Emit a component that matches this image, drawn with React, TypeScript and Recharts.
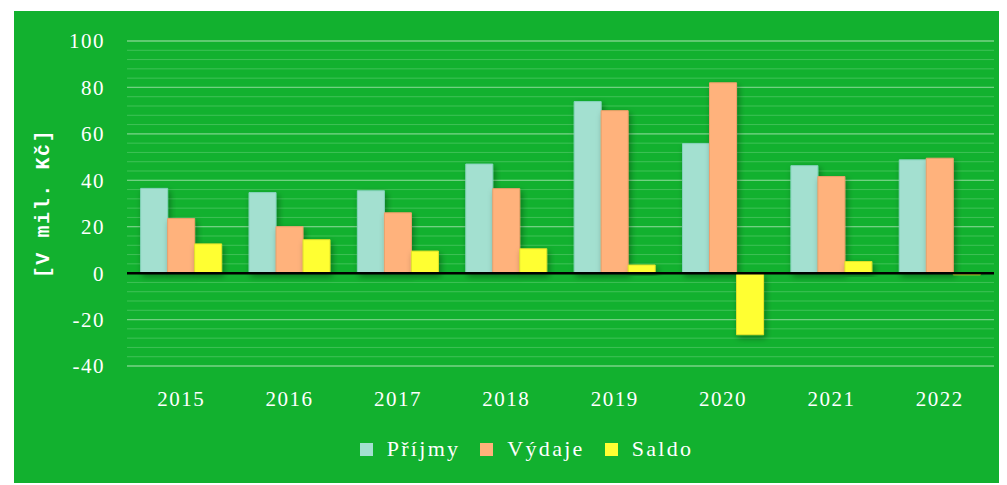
import {
  BarChart,
  Bar,
  XAxis,
  YAxis,
  CartesianGrid,
  Legend,
  ReferenceLine,
} from "recharts";

const years = ["2015", "2016", "2017", "2018", "2019", "2020", "2021", "2022"];
const prijmy = [36.5, 34.7, 35.5, 47, 73.9, 55.8, 46.3, 48.8];
const vydaje = [23.5, 20, 26, 36.4, 70, 82, 41.6, 49.5];
const saldo = [12.6, 14.4, 9.5, 10.5, 3.5, -26.5, 5, -0.7];

const majorTicks = [-40, -20, 0, 20, 40, 60, 80, 100];
const minorTicks = Array.from({ length: 36 }, (_, i) => -40 + i * 4);

const data = years.map((year, i) => ({
  year,
  prijmy: prijmy[i],
  vydaje: vydaje[i],
  saldo: saldo[i],
}));

const FONT = '"Liberation Serif", serif';

const series = [
  { key: "prijmy", name: "Příjmy", fill: "#a3e0d0", stroke: "#86d4bd" },
  { key: "vydaje", name: "Výdaje", fill: "#ffb27b", stroke: "#eea06c" },
  { key: "saldo", name: "Saldo", fill: "#ffff33", stroke: "#e2e22a" },
];

function LegendContent() {
  return (
    <div
      style={{
        display: "flex",
        justifyContent: "center",
        alignItems: "center",
        height: 24,
        paddingLeft: 52,
        fontFamily: FONT,
        fontSize: 22,
        letterSpacing: 2.3,
        color: "#ffffff",
      }}
    >
      {series.map((s) => (
        <div key={s.key} style={{ display: "flex", alignItems: "center", marginRight: 20 }}>
          <span style={{ width: 13, height: 13, background: s.fill, marginRight: 14 }} />
          <span>{s.name}</span>
        </div>
      ))}
    </div>
  );
}

function AxisTitle(props: any) {
  const vb = props.viewBox || { y: 0, height: 0 };
  const cy = vb.y + vb.height / 2;
  return (
    <text
      x={29}
      y={cy}
      transform={`rotate(-90, 29, ${cy})`}
      textAnchor="middle"
      dominantBaseline="central"
      fill="#ffffff"
      fontFamily='"Liberation Mono", monospace'
      fontWeight="bold"
      fontSize={20}
      letterSpacing={1.6}
    >
      [V mil. Kč]
    </text>
  );
}

export default function App() {
  return (
    <div style={{ marginLeft: 6, marginTop: 3, width: 993, height: 472, background: "#12b12f" }}>
      <BarChart
        width={993}
        height={472}
        data={data}
        margin={{ top: 30, right: 13, left: 0, bottom: 22 }}
        barCategoryGap="12.6%"
        barGap={0}
      >
        <defs>
          <filter id="barShadow" x="-30%" y="-30%" width="160%" height="160%">
            <feDropShadow dx="2" dy="3" stdDeviation="3" floodColor="#000" floodOpacity="0.35" />
          </filter>
        </defs>
        <CartesianGrid yAxisId="minor" vertical={false} stroke="#3fc257" strokeWidth={1} />
        <CartesianGrid yAxisId="major" vertical={false} stroke="#72d182" strokeWidth={1.3} />
        <XAxis
          dataKey="year"
          axisLine={false}
          tickLine={false}
          tickSize={0}
          tickMargin={25}
          height={71}
          tick={{ fill: "#ffffff", fontFamily: FONT, fontSize: 21, letterSpacing: 1.5 }}
        />
        <YAxis
          yAxisId="minor"
          hide
          domain={[-40, 100]}
          ticks={minorTicks}
          interval={0}
          allowDataOverflow
        />
        <YAxis
          yAxisId="major"
          domain={[-40, 100]}
          ticks={majorTicks}
          interval={0}
          width={113}
          axisLine={false}
          tickLine={false}
          tickSize={0}
          tickMargin={22}
          tick={{ fill: "#ffffff", fontFamily: FONT, fontSize: 21, letterSpacing: 1.5 }}
          label={<AxisTitle />}
        />
        <Legend verticalAlign="bottom" content={<LegendContent />} wrapperStyle={{ left: 0, width: 993 }} />
        {series.map((s) => (
          <Bar
            key={s.key}
            yAxisId="major"
            dataKey={s.key}
            name={s.name}
            fill={s.fill}
            stroke={s.stroke}
            strokeWidth={1}
            filter="url(#barShadow)"
            isAnimationActive={false}
          />
        ))}
        <ReferenceLine yAxisId="major" y={0} stroke="#000000" strokeWidth={2.5} />
      </BarChart>
    </div>
  );
}
